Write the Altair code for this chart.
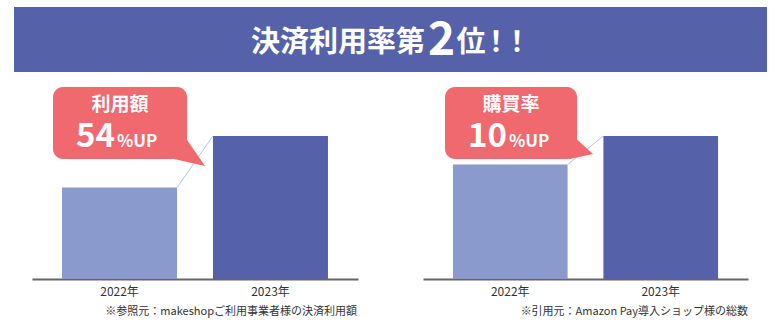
import altair as alt
import pandas as pd

# ---- data ----
years = ["2022年", "2023年"]
usage_values = [64, 100]      # 利用額 (2023 = 100)
purchase_values = [80, 100]   # 購買率 (2023 = 100)

title_main = "決済利用率第"
title_rank = "2"
title_tail = "位"
title_bang = "！"

left_label = "利用額"
left_pct = "54"
right_label = "購買率"
right_pct = "10"
up_suffix = "%UP"

left_note = "※参照元：makeshopご利用事業者様の決済利用額"
right_note = "※引用元：Amazon Pay導入ショップ様の総数"

# ---- styles ----
FONT = "Noto Sans CJK JP"
BLUE = "#5562AA"
LIGHT = "#8A9ACD"
RED = "#F0696E"
LINK = "#B4C4EC"
TXT = "#333333"

one = pd.DataFrame({"k": [0]})
yscale = alt.Scale(domain=[0, 100], range=[279, 136])


def panel(values, rng):
    df = pd.DataFrame({"year": years, "value": values})
    xs = alt.Scale(domain=years, range=rng, paddingInner=0.238, paddingOuter=0.199)
    ax = alt.Axis(orient="bottom", title=None, ticks=False, tickSize=0, labelPadding=7,
                  offset=-48,
                  labelFont=FONT, labelFontSize=12, labelColor=TXT, labelAngle=0,
                  domainColor="#666666", domainWidth=2, grid=False)
    bars = alt.Chart(df).mark_bar().encode(
        x=alt.X("year:N", scale=xs, sort=years, axis=ax),
        y=alt.Y("value:Q", scale=yscale, axis=None),
        color=alt.Color("year:N", scale=alt.Scale(domain=years, range=[LIGHT, BLUE]), legend=None),
    )
    link_df = pd.DataFrame({"year": [years[0]], "b": [years[1]],
                            "value": [values[0]], "vb": [values[1]]})
    link = alt.Chart(link_df).mark_rule(color=LINK, strokeWidth=1).encode(
        x=alt.X("year:N", scale=xs, sort=years, axis=ax, bandPosition=1),
        x2=alt.X2("b", bandPosition=0),
        y=alt.Y("value:Q", scale=yscale, axis=None),
        y2=alt.Y2("vb"),
    )
    return alt.layer(bars, link)


def text(t, x, y, size, align="left", weight="bold", color="white", baseline="alphabetic"):
    return alt.Chart(one).mark_text(text=t, font=FONT, fontSize=size, fontWeight=weight,
                                    color=color, align=align, baseline=baseline).encode(
        x=alt.value(x), y=alt.value(y))


def rect(x, x2, y, y2, color, radius=0):
    return alt.Chart(one).mark_rect(color=color, cornerRadius=radius).encode(
        x=alt.value(x), x2=alt.value(x2), y=alt.value(y), y2=alt.value(y2))


def tail(path, color):
    return alt.Chart(one).mark_point(shape=path, filled=True, size=4, color=color,
                                     opacity=1, strokeWidth=0).encode(
        x=alt.value(0), y=alt.value(0))


banner = [
    rect(14, 767, 7, 72, BLUE),
    text(title_main, 338, 52, 29, align="center"),
    text(title_rank, 441.5, 55, 46, align="center"),
    text(title_tail, 471, 52, 29, align="center"),
    text(title_bang, 496, 52, 28, align="center"),
    text(title_bang, 517, 52, 28, align="center"),
]

callouts = [
    rect(53, 187, 87, 159, RED, radius=10),
    tail("M183,134L205,166L174,159L168,152Z", RED),
    text(left_label, 120, 111, 19, align="center"),
    text(left_pct, 115, 147, 33, align="right"),
    text(up_suffix, 117, 147, 17),
    rect(445, 577, 87, 159, RED, radius=10),
    tail("M571,134L593,154L570,159L560,156Z", RED),
    text(right_label, 511, 111, 19, align="center"),
    text(right_pct, 507, 147, 33, align="right"),
    text(up_suffix, 509, 147, 17),
]

notes = [
    text(left_note, 357, 315, 11, align="right", weight="normal", color=TXT),
    text(right_note, 748, 315, 11, align="right", weight="normal", color=TXT),
]

chart = alt.layer(
    *banner,
    panel(usage_values, [32, 358]),
    panel(purchase_values, [423, 748]),
    *callouts,
    *notes,
).resolve_scale(x="independent").resolve_axis(x="independent").properties(
    width=781, height=327, autosize=alt.AutoSizeParams(type="none"), padding=0,
    background="white",
).configure_view(strokeWidth=0)

chart.save("out.html", embed_options={"renderer": "svg", "actions": False})
